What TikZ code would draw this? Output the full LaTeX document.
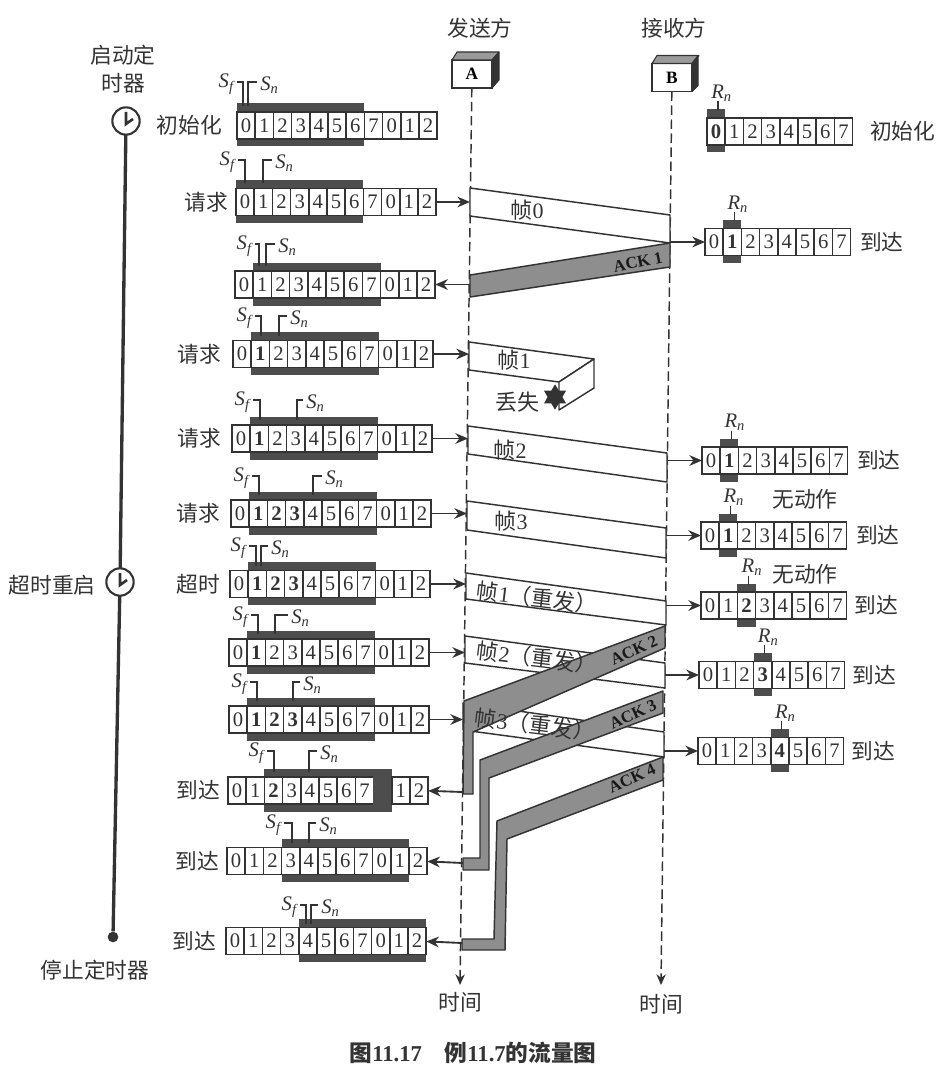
\documentclass[tikz,border=0pt]{standalone}
\usepackage{fontspec}
\setmainfont{Liberation Serif}
\newfontfamily\cjk{Noto Sans CJK SC}
\usetikzlibrary{arrows.meta,positioning,shapes.geometric}
\definecolor{inkc}{HTML}{333333}
\definecolor{barc}{HTML}{4D4D4D}
\definecolor{ackc}{HTML}{8E8E8E}
\definecolor{facec}{HTML}{9A9A9A}
\tikzset{
  seqcell/.style={draw=inkc, fill=white, line width=1.1pt, minimum width=13.65pt,
    minimum height=20.25pt, inner sep=0pt, outer sep=0pt, text=inkc,
    font=\fontsize{15.5}{15.5}\selectfont},
  deadcell/.style={seqcell, draw=barc, fill=barc},
  winbar/.style={fill=barc},
  markline/.style={draw=inkc, line width=0.9pt},
  marklabel/.style={inner sep=0pt, text=inkc, font=\fontsize{15.5}{15.5}\selectfont\itshape},
  cnlabel/.style={inner sep=0pt, text=inkc, align=center, font=\cjk\fontsize{16.3}{21}\selectfont},
  framelabel/.style={cnlabel, font=\cjk\fontsize{16.5}{16.5}\selectfont},
  acklabel/.style={inner sep=0pt, text=black!90, font=\bfseries\fontsize{12.5}{13}\selectfont},
  framepoly/.style={draw=inkc, fill=white, line width=1.1pt, line join=round},
  ackpoly/.style={draw=inkc, fill=ackc, line width=1.1pt, line join=round},
  arr/.style={-{Stealth[length=9.5pt,width=8pt]}, line width=1.4pt, draw=inkc},
  lifeline/.style={-{Stealth[length=8pt,width=7pt]}, line width=1.1pt, draw=inkc,
    dash pattern=on 7pt off 3.5pt},
  hostbox/.style={draw=inkc, fill=white, line width=1.1pt, minimum width=30pt,
    minimum height=21pt, inner sep=0pt, outer sep=0pt, font=\bfseries\fontsize{13}{13}\selectfont},
  hosttop/.style={draw=inkc, fill=facec, line width=0.8pt, line join=round},
  hostside/.style={draw=inkc, fill=inkc, line width=0.8pt, line join=round},
  clockbox/.style={circle, draw=inkc, fill=white, line width=1.6pt, minimum size=20.5pt,
    inner sep=0pt, outer sep=0pt},
  clockhand/.style={draw=inkc, line width=2pt},
  timerline/.style={draw=inkc, line width=2.5pt},
  stopdot/.style={circle, fill=inkc, minimum size=8pt, inner sep=0pt},
  lostmark/.style={star, star points=6, star point ratio=1.7, fill=inkc, minimum size=19pt, inner sep=0pt}
}
\newcommand{\cellw}{18.2}
\newcommand{\senderwin}[6]{%
  \fill[winbar] ({#2+#4*\cellw},{#3-22}) rectangle ({#2+(#4+7)*\cellw},{#3+21});
  \foreach \seq [count=\i from 0] in {0,1,2,3,4,5,6,7,0,1,2} {%
    \ifnum\i=#6\relax
      \node[deadcell] (#1-\i) at ({#2+(\i+.5)*\cellw},#3) {};
    \else
      \node[seqcell] (#1-\i) at ({#2+(\i+.5)*\cellw},#3)
        {\ifnum\i<#4\relax\else\ifnum\i<#5\relax\bfseries\fi\fi\seq};
    \fi}}
\newcommand{\recvwin}[4]{%
  \fill[winbar] ({#2+#4*\cellw},{#3-22}) rectangle ({#2+(#4+1)*\cellw},{#3+21});
  \draw[markline] ({#2+(#4+.6)*\cellw},{#3-30}) -- ({#2+(#4+.6)*\cellw},{#3-21});
  \node[marklabel] (#1-rn) at ({#2+(#4+.8)*\cellw},{#3-38}) {R\textsubscript{n}};
  \foreach \seq [count=\i from 0] in {0,1,2,3,4,5,6,7} {%
    \node[seqcell] (#1-\i) at ({#2+(\i+.5)*\cellw},#3)
      {\ifnum\i=#4\relax\bfseries\fi\seq};}}
\newcommand{\windowmarks}[7]{%
  \draw[markline] (#2,#7) -- (#2,#6) -- (#3,#6);
  \draw[markline] (#4,#7) -- (#4,#6) -- (#5,#6);
  \node[marklabel, anchor=east] (#1-sf) at ({#3-3},{#6+2}) {S\textsubscript{f}};
  \node[marklabel, anchor=west] (#1-sn) at ({#5+3},{#6+3}) {S\textsubscript{n}};}
\begin{document}
\begin{tikzpicture}[x=0.75pt,y=-0.75pt]
  \useasboundingbox (0,0) rectangle (944,1077);
  \node[cnlabel] (senderlabel) at (480,28) {发送方};
  \node[cnlabel] (receiverlabel) at (674,28) {接收方};
  \node[hostbox] (hostA) at (472,74) {A};
  \node[hostbox] (hostB) at (672,77.5) {B};
  \fill[hosttop] (hostA.north west) -- ++(5,-8) -- ++(42,0) -- (hostA.north east) -- cycle;
  \fill[hostside] (hostA.north east) -- ++(7,-8) -- ++(0,28) -- (hostA.south east) -- cycle;
  \fill[hosttop] (hostB.north west) -- ++(5,-8) -- ++(42,0) -- (hostB.north east) -- cycle;
  \fill[hostside] (hostB.north east) -- ++(6,-8) -- ++(0,30) -- (hostB.south east) -- cycle;
  \coordinate (timeA) at (460,985);
  \coordinate (timeB) at (661,985);
  \draw[lifeline] (hostA) -- (timeA);
  \draw[lifeline] (hostB) -- (timeB);
  \node[cnlabel, below=5pt of timeA] (timeAlabel) {时间};
  \node[cnlabel, below=7pt of timeB] (timeBlabel) {时间};

  \coordinate (f0in) at (470,202);
  \coordinate (f0out) at (670,242);
  \coordinate (a1end) at (470,284.5);
  \coordinate (f1in) at (469,354);
  \coordinate (f2in) at (468,438.5);
  \coordinate (f2out) at (667,460.5);
  \coordinate (f3in) at (467,513.5);
  \coordinate (f3out) at (666,535.5);
  \coordinate (r1in) at (466,584);
  \coordinate (r1out) at (666,605.5);
  \coordinate (r2in) at (465,652.5);
  \coordinate (r2out) at (665,675);
  \coordinate (r3in) at (463,719.5);
  \coordinate (r3out) at (664,751);
  \coordinate (a2end) at (463,792);
  \coordinate (a3end) at (463,863);
  \coordinate (a4end) at (462,943);

  \draw[framepoly] (470,188) -- (670,215) -- (670,243) -- (470,216) -- cycle;
  \draw[framepoly] (469,342) -- (594,359) -- (559,382) -- (469,370) -- cycle;
  \draw[framepoly] (559,382) -- (594,359) -- (594,388) -- (559,410) -- cycle;
  \draw[framepoly] (468,426) -- (667,453) -- (667,482) -- (468,454) -- cycle;
  \draw[framepoly] (467,501) -- (666,528) -- (666,558) -- (467,530) -- cycle;
  \draw[framepoly] (466,573) -- (666,601) -- (666,625) -- (466,599) -- cycle;
  \draw[framepoly] (465,636) -- (665,663) -- (665,688) -- (465,663) -- cycle;
  \draw[framepoly] (463,703) -- (664,732) -- (664,757) -- (463,730) -- cycle;
  \draw[ackpoly] (470,275) -- (670,243) -- (670,267) -- (470,297) -- cycle;
  \draw[ackpoly] (665,626) -- (464,701) -- (463,794) -- (473,794) -- (473,732) -- (665,648) -- cycle;
  \draw[ackpoly] (663,691) -- (480,760) -- (480,858) -- (463,858) -- (463,870) -- (489,870) -- (489,778) -- (663,713) -- cycle;
  \draw[ackpoly] (663,757) -- (497,821) -- (494,939) -- (462,939) -- (462,950) -- (505,950) -- (507,839) -- (663,780) -- cycle;

  \node[lostmark] (lost1) at (555,397) {};
  \node[framelabel] (f0label) at (527,210) {帧{\rmfamily 0}};
  \node[framelabel] (f1label) at (514,360) {帧{\rmfamily 1}};
  \node[framelabel] (lostlabel) at (517,402) {丢失};
  \node[framelabel] (f2label) at (510,450) {帧{\rmfamily 2}};
  \node[framelabel] (f3label) at (511,521) {帧{\rmfamily 3}};
  \node[framelabel, rotate=-7] (r1label) at (537,598) {帧{\rmfamily 1}（重发）};
  \node[framelabel, rotate=-7] (r2label) at (537,658) {帧{\rmfamily 2}（重发）};
  \node[framelabel, rotate=-7] (r3label) at (535,725) {帧{\rmfamily 3}（重发）};
  \node[acklabel, rotate=11] (a1label) at (638,262) {ACK 1};
  \node[acklabel, rotate=24] (a2label) at (634,650) {ACK 2};
  \node[acklabel, rotate=24] (a3label) at (633,714) {ACK 3};
  \node[acklabel, rotate=24] (a4label) at (632,778) {ACK 4};

  \senderwin{w1}{237}{125.5}{0}{0}{-1}
  \senderwin{w2}{236}{202}{0}{0}{-1}
  \senderwin{w3}{235}{284.5}{1}{0}{-1}
  \senderwin{w4}{233}{354}{1}{2}{-1}
  \senderwin{w5}{232}{438.5}{1}{2}{-1}
  \senderwin{w6}{231}{513.5}{1}{4}{-1}
  \senderwin{w7}{230}{584}{1}{4}{-1}
  \senderwin{w8}{229}{652.5}{1}{2}{-1}
  \senderwin{w9}{229}{719.5}{1}{4}{-1}
  \senderwin{w10}{228}{790.5}{2}{3}{8}
  \senderwin{w11}{227}{861}{3}{0}{-1}
  \senderwin{w12}{226}{941}{4}{0}{-1}

  \windowmarks{w1}{243}{237}{248}{257}{82}{106}
  \windowmarks{w2}{245}{238}{263}{272}{160}{183}
  \windowmarks{w3}{259}{255}{266}{275}{244}{266}
  \windowmarks{w4}{261}{255}{279}{287}{316}{336}
  \windowmarks{w5}{260}{253}{297}{303}{400}{420}
  \windowmarks{w6}{259}{252}{313}{322}{476}{495}
  \windowmarks{w7}{256}{249}{261}{268}{546}{566}
  \windowmarks{w8}{258}{251}{275}{288}{615}{634}
  \windowmarks{w9}{257}{250}{293}{300}{682}{701}
  \windowmarks{w10}{274}{267}{309}{317}{751}{772}
  \windowmarks{w11}{292}{284}{309}{316}{823}{843}
  \windowmarks{w12}{306}{300}{311}{318}{905}{924}

  \recvwin{r1}{707}{131.5}{0}
  \recvwin{r2}{705}{242}{1}
  \recvwin{r3}{702}{460.5}{1}
  \recvwin{r4}{701}{535.5}{1}
  \recvwin{r5}{701}{605.5}{2}
  \recvwin{r6}{699}{675}{3}
  \recvwin{r7}{698}{751}{4}

  \node[cnlabel, left=11pt of w1-0] (w1label) {初始化};
  \node[cnlabel, left=6pt of w2-0] (w2label) {请求};
  \node[cnlabel, left=9pt of w4-0] (w4label) {请求};
  \node[cnlabel, left=8pt of w5-0] (w5label) {请求};
  \node[cnlabel, left=8pt of w6-0] (w6label) {请求};
  \node[cnlabel, left=7pt of w7-0] (w7label) {超时};
  \node[cnlabel, left=6pt of w10-0] (w10label) {到达};
  \node[cnlabel, left=6pt of w11-0] (w11label) {到达};
  \node[cnlabel, left=7pt of w12-0] (w12label) {到达};
  \node[cnlabel, right=13pt of r1-7] (r1label2) {初始化};
  \node[cnlabel, right=7pt of r2-7] (r2label2) {到达};
  \node[cnlabel, right=7pt of r3-7] (r3label2) {到达};
  \node[cnlabel, right=7pt of r4-7] (r4label2) {到达};
  \node[cnlabel, right=6pt of r5-7] (r5label2) {到达};
  \node[cnlabel, right=6pt of r6-7] (r6label2) {到达};
  \node[cnlabel, right=6pt of r7-7] (r7label2) {到达};
  \node[cnlabel] (noop1) at (805,499) {无动作};
  \node[cnlabel] (noop2) at (805,574) {无动作};

  \draw[arr] (w2-10) -- (f0in);
  \draw[arr] (f0out) -- (r2-0);
  \draw[arr] (a1end) -- (w3-10);
  \draw[arr] (w4-10) -- (f1in);
  \draw[arr] (w5-10) -- (f2in);
  \draw[arr] (f2out) -- (r3-0);
  \draw[arr] (w6-10) -- (f3in);
  \draw[arr] (f3out) -- (r4-0);
  \draw[arr] (w7-10) -- (r1in);
  \draw[arr] (r1out) -- (r5-0);
  \draw[arr] (w8-10) -- (r2in);
  \draw[arr] (r2out) -- (r6-0);
  \draw[arr] (w9-10) -- (r3in);
  \draw[arr] (r3out) -- (r7-0);
  \draw[arr] (a2end) -- (w10-10);
  \draw[arr] (a3end) -- (w11-10);
  \draw[arr] (a4end) -- (w12-10);

  \node[clockbox] (clock1) at (126,121) {};
  \node[clockbox] (clock2) at (120,582) {};
  \node[stopdot] (stop) at (113,937) {};
  \draw[timerline] (clock1) -- (clock2);
  \draw[timerline] (clock2) -- (stop);
  \draw[clockhand] (clock1.center) ++(0,-9) -- ++(0,12) -- ++(7,-5);
  \draw[clockhand] (clock2.center) ++(0,-9) -- ++(0,12) -- ++(7,-5);
  \node[cnlabel] (startlabel) at (123,69) {启动定\\时器};
  \node[cnlabel] (restartlabel) at (52,585) {超时重启};
  \node[cnlabel] (stoplabel) at (95,970) {停止定时器};
  \node[cnlabel, font=\cjk\bfseries\fontsize{17}{17}\selectfont] (caption) at (473,1053)
    {图{\rmfamily\bfseries 11.17}\quad 例{\rmfamily\bfseries 11.7}的流量图};
\end{tikzpicture}
\end{document}
